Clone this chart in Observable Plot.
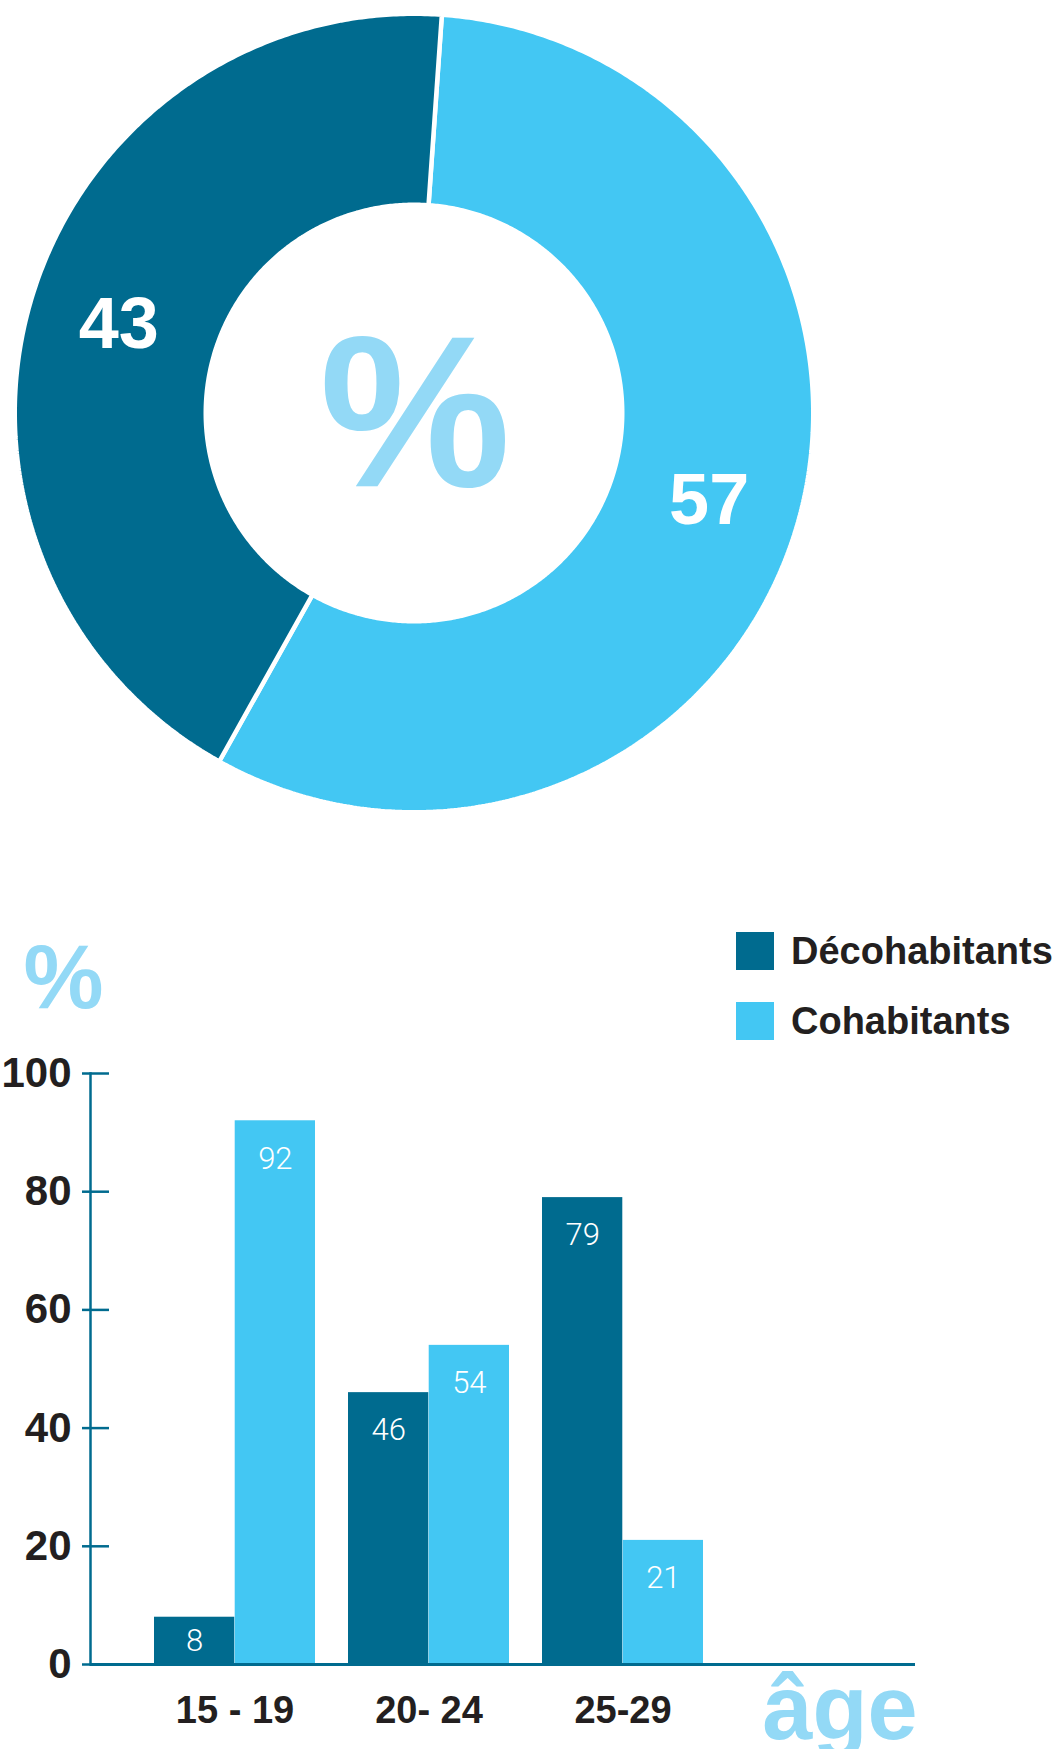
<!DOCTYPE html>
<html><head><meta charset="utf-8">
<script src="https://cdn.jsdelivr.net/npm/d3@7"></script>
<script src="https://cdn.jsdelivr.net/npm/@observablehq/plot@0.6"></script>
<style>
html,body{margin:0;padding:0;background:#fff;}
#page{position:relative;width:1058px;height:1749px;overflow:hidden;font-family:"Liberation Sans",Arial,Helvetica,sans-serif;}
#page svg{display:block;}
.legend{position:absolute;left:736px;top:932px;}
.legend .row{display:flex;align-items:center;height:38px;margin-bottom:32px;}
.legend .sw{width:38px;height:38px;margin-right:17px;flex:none;}
.legend .lab{font-weight:bold;font-size:38px;color:#231f20;line-height:38px;white-space:nowrap;}
</style></head>
<body><div id="page"><div id="donut"></div><div id="bars"></div><div class="legend" id="legend"></div></div>
<script>
// ---- data ----
const shareLabels = ["Cohabitants", "Décohabitants"];
const shareValues = [57, 43];
const ages = ["15 - 19", "20- 24", "25-29"];
const series = ["Décohabitants", "Cohabitants"];
const decohabitants = [8, 46, 79];
const cohabitants = [92, 54, 21];
const yTicks = [0, 20, 40, 60, 80, 100];

// ---- styles ----
const DARK = "#006b8f", LIGHT = "#43c7f3", PALE = "#93d9f6", INK = "#231f20";
const colors = {"Décohabitants": DARK, "Cohabitants": LIGHT};
const FONT = "Liberation Sans, Arial, Helvetica, sans-serif";
const LIGHTFONT = "Roboto, Liberation Sans, sans-serif";
const W = 1058;

// ---- donut ----
const H1 = 830, cx = 413.5, cy = 412.5, R = 397, r0 = 210.5, gap = 4.5, labR = 308;
const t0 = 4 * Math.PI / 180;
const pie = d3.pie().sort(null).value(d => d.value).startAngle(t0).endAngle(t0 + 2 * Math.PI);
const slices = pie(shareLabels.map((k, i) => ({key: k, value: shareValues[i]})));
function ring(s) {
  const pts = [];
  const n = Math.max(2, Math.ceil((s.endAngle - s.startAngle) / (Math.PI / 360)));
  const ro = R + gap / 2, ri = r0 - gap / 2;
  for (let i = 0; i <= n; i++) {
    const a = s.startAngle + (s.endAngle - s.startAngle) * i / n;
    pts.push({x: ro * Math.sin(a), y: ro * Math.cos(a)});
  }
  for (let i = n; i >= 0; i--) {
    const a = s.startAngle + (s.endAngle - s.startAngle) * i / n;
    pts.push({x: ri * Math.sin(a), y: ri * Math.cos(a)});
  }
  return pts;
}
const mid = s => (s.startAngle + s.endAngle) / 2;
const donut = Plot.plot({
  width: W, height: H1, margin: 0,
  style: {fontFamily: FONT, background: "white"},
  x: {domain: [-cx, W - cx], axis: null},
  y: {domain: [-(H1 - cy), cy], axis: null},
  marks: [
    ...slices.map(s => Plot.line(ring(s), {x: "x", y: "y", fill: colors[s.data.key], stroke: "white", strokeWidth: gap, curve: "linear-closed", strokeLinejoin: "miter"})),
    Plot.text(slices, {x: s => labR * Math.sin(mid(s)), y: s => labR * Math.cos(mid(s)), text: s => String(s.data.value), fill: "white", fontSize: 72, fontWeight: "bold", fontFamily: FONT}),
    Plot.text(["%"], {x: () => 0, y: () => 0, text: d => d, fill: PALE, fontSize: 215, fontWeight: "bold", fontFamily: FONT, dx: 1, dy: 4})
  ]
});
document.getElementById("donut").appendChild(donut);

// ---- bars ----
const H2 = 919, mL = 90, mR = 143, mT = 243, mB = 85;
const pIn = 0.1706, pOut = 0.705, al = 0.2307;
const step = (W - mL - mR) / (ages.length - pIn + 2 * pOut);
const bw = step * (1 - pIn), half = bw / 2;
const labelDrop = 6.4; // label sits this many units below the bar top (or mid-bar if the bar is short)
const rows = ages.flatMap((a, i) => [
  {age: a, series: series[0], value: decohabitants[i]},
  {age: a, series: series[1], value: cohabitants[i]}
]);
const darkRows = rows.filter(d => d.series === series[0]);
const lightRows = rows.filter(d => d.series === series[1]);
const labelY = d => Math.max(d.value - labelDrop, d.value / 2);
const bars = Plot.plot({
  width: W, height: H2, marginLeft: mL, marginRight: mR, marginTop: mT, marginBottom: mB,
  style: {fontFamily: FONT, background: "white", overflow: "visible"},
  x: {domain: ages, paddingInner: pIn, paddingOuter: pOut, align: al, axis: null},
  y: {domain: [0, 100], axis: null},
  marks: [
    Plot.barY(darkRows, {x: "age", y: "value", fill: colors[series[0]], insetRight: half}),
    Plot.barY(lightRows, {x: "age", y: "value", fill: colors[series[1]], insetLeft: half}),
    Plot.text(darkRows, {x: "age", y: labelY, text: d => String(d.value), dx: -bw / 4, fill: "white", fontSize: 31, fontWeight: 300, fontFamily: LIGHTFONT}),
    Plot.text(lightRows, {x: "age", y: labelY, text: d => String(d.value), dx: bw / 4, fill: "white", fontSize: 31, fontWeight: 300, fontFamily: LIGHTFONT}),
    Plot.frame({anchor: "left", stroke: DARK, strokeWidth: 2.5}),
    Plot.ruleY(yTicks, {stroke: DARK, strokeWidth: 2.5, insetLeft: -8, insetRight: (W - mL - mR) - 19}),
    Plot.ruleY([0], {stroke: DARK, strokeWidth: 3}),
    Plot.text(yTicks, {y: d => d, text: d => String(d), frameAnchor: "left", textAnchor: "end", lineAnchor: "middle", dx: -19, fill: INK, fontSize: 42, fontWeight: "bold", fontFamily: FONT}),
    Plot.text(ages, {x: d => d, text: d => d, frameAnchor: "bottom", textAnchor: "middle", lineAnchor: "middle", dy: 46, fill: INK, fontSize: 38, fontWeight: "bold", fontFamily: FONT}),
    Plot.text(["%"], {text: d => d, frameAnchor: "top-left", textAnchor: "middle", lineAnchor: "middle", dx: -27, dy: -94, fill: PALE, fontSize: 90, fontWeight: "bold", fontFamily: FONT}),
    Plot.text(["âge"], {text: d => d, frameAnchor: "bottom-right", textAnchor: "end", lineAnchor: "bottom", dx: 2, dy: 74, fill: PALE, fontSize: 90, fontWeight: "bold", fontFamily: FONT})
  ]
});
document.getElementById("bars").appendChild(bars);

// ---- legend ----
const leg = document.getElementById("legend");
series.forEach(s => {
  const row = document.createElement("div"); row.className = "row";
  const sw = document.createElement("div"); sw.className = "sw"; sw.style.background = colors[s];
  const lab = document.createElement("div"); lab.className = "lab"; lab.textContent = s;
  row.appendChild(sw); row.appendChild(lab); leg.appendChild(row);
});
</script>
</body></html>
